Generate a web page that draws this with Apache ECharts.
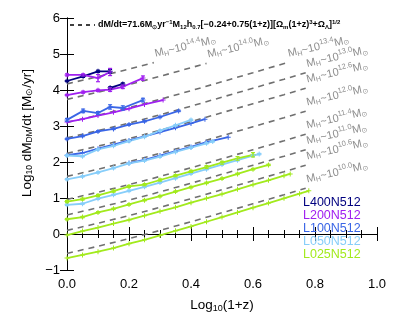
<!DOCTYPE html>
<html><head><meta charset="utf-8">
<script src="https://cdn.jsdelivr.net/npm/echarts@6/dist/echarts.min.js"></script>
<style>html,body{margin:0;padding:0;background:#fff}#c{width:399px;height:319px}</style>
</head><body><div id="c"></div>
<script>
// ---- axis ticks ----
const xTickValues = [0.0, 0.2, 0.4, 0.6, 0.8, 1.0];
const yTickValues = [-1, 0, 1, 2, 3, 4, 5, 6];

// ---- dashed model lines (x = log10(1+z), y = log10 dM/dt) ----
const massLabels = ['10.0','10.6','11.0','11.4','12.0','12.6','13.0','13.4','14.0','14.4'];
const dash_100 = [[0,-0.54],[0.1,-0.34],[0.2,-0.13],[0.3,0.10],[0.4,0.34],[0.5,0.59],[0.6,0.84],[0.7,1.09],[0.77,1.27]];
const dash_106 = [[0,0.10],[0.1,0.30],[0.2,0.51],[0.3,0.74],[0.4,0.98],[0.5,1.23],[0.6,1.48],[0.7,1.73],[0.77,1.91]];
const dash_110 = [[0,0.53],[0.1,0.73],[0.2,0.94],[0.3,1.17],[0.4,1.41],[0.5,1.66],[0.6,1.91],[0.7,2.16],[0.77,2.34]];
const dash_114 = [[0,0.96],[0.1,1.16],[0.2,1.37],[0.3,1.60],[0.4,1.84],[0.5,2.09],[0.6,2.34],[0.7,2.59],[0.77,2.77]];
const dash_120 = [[0,1.60],[0.1,1.80],[0.2,2.01],[0.3,2.24],[0.4,2.48],[0.5,2.73],[0.6,2.98],[0.7,3.23],[0.77,3.41]];
const dash_126 = [[0,2.24],[0.1,2.44],[0.2,2.65],[0.3,2.88],[0.4,3.12],[0.5,3.37],[0.6,3.62],[0.7,3.87],[0.77,4.05]];
const dash_130 = [[0,2.67],[0.1,2.87],[0.2,3.08],[0.3,3.31],[0.4,3.55],[0.5,3.80],[0.6,4.05],[0.7,4.30],[0.77,4.48]];
const dash_134 = [[0,3.10],[0.1,3.30],[0.2,3.51],[0.3,3.74],[0.4,3.98],[0.5,4.23],[0.6,4.48],[0.71,4.76]];
const dash_140 = [[0,3.74],[0.1,3.94],[0.2,4.15],[0.3,4.38],[0.45,4.74]];
const dash_144 = [[0,4.17],[0.1,4.37],[0.2,4.58],[0.28,4.76]];

// ---- simulation curves: [x, y, error] ----
const L400_144 = [[0,4.25,0.02],[0.052,4.38,0.03],[0.1,4.52,0.03],[0.139,4.52,0.05]];
const L400_140 = [[0.139,4.06,0.03],[0.18,4.17,0.03]];

const L200_144 = [[0,4.42,0.03],[0.052,4.42,0.03],[0.1,4.33,0.10],[0.139,4.50,0.10]];
const L200_140 = [[0,3.86,0.02],[0.052,3.94,0.03],[0.1,3.99,0.03],[0.139,4.01,0.05],[0.18,4.09,0.05],[0.245,4.33,0.06]];
const L200_134 = [[0,3.11,0],[0.05,3.19,0],[0.1,3.29,0],[0.15,3.38,0],[0.2,3.48,0],[0.25,3.60,0],[0.31,3.72,0]];

const L100_134 = [[0,3.17,0.04],[0.052,3.42,0.05],[0.1,3.36,0.04],[0.139,3.53,0.06],[0.18,3.50,0.06],[0.245,3.72,0.05]];
const L100_130 = [[0,2.64,0.02],[0.05,2.72,0.02],[0.1,2.85,0.02],[0.15,2.92,0.02],[0.2,3.04,0.02],[0.25,3.13,0.02],[0.3,3.25,0.02],[0.36,3.42,0.02]];
const L100_126 = [[0,2.19,0],[0.05,2.25,0],[0.1,2.37,0],[0.15,2.48,0],[0.2,2.60,0],[0.25,2.71,0],[0.3,2.83,0],[0.35,2.95,0],[0.4,3.07,0],[0.445,3.19,0]];
const L100_120 = [[0.2,1.97,0],[0.25,2.06,0],[0.3,2.18,0],[0.35,2.30,0],[0.4,2.42,0],[0.45,2.55,0],[0.52,2.69,0]];

const L050_126 = [[0,2.18,0.02],[0.05,2.16,0.02],[0.1,2.35,0.02],[0.15,2.45,0.02],[0.2,2.58,0.02],[0.25,2.70,0.02],[0.3,2.87,0.02],[0.35,3.02,0.02],[0.4,3.17,0.02]];
const L050_120 = [[0,1.52,0.02],[0.05,1.60,0.02],[0.1,1.71,0.02],[0.15,1.83,0.02],[0.2,1.96,0.02],[0.25,2.04,0.02],[0.3,2.15,0.02],[0.35,2.28,0.02],[0.4,2.40,0.02],[0.45,2.52,0.02],[0.47,2.57,0.02]];
const L050_114 = [[0,0.81,0.02],[0.05,0.84,0.02],[0.1,0.98,0.02],[0.15,1.09,0.02],[0.2,1.20,0.02],[0.25,1.31,0.02],[0.3,1.43,0.02],[0.35,1.55,0.02],[0.4,1.68,0.02],[0.45,1.80,0.02],[0.5,1.93,0.02],[0.55,2.05,0.02],[0.6,2.18,0.02],[0.62,2.22,0.02]];

const L025_114 = [[0,0.90,0.03],[0.05,0.97,0.03],[0.1,1.07,0.03],[0.15,1.19,0.03],[0.2,1.32,0.03],[0.25,1.37,0.03],[0.3,1.50,0.03],[0.35,1.62,0.03],[0.4,1.74,0.03],[0.45,1.86,0.04],[0.5,1.98,0.04],[0.55,2.10,0.05],[0.6,2.20,0.06]];
const L025_110 = [[0,0.41,0.02],[0.05,0.47,0.02],[0.1,0.60,0.02],[0.15,0.70,0.02],[0.2,0.82,0.02],[0.25,0.94,0.02],[0.3,1.05,0.02],[0.35,1.18,0.02],[0.4,1.30,0.02],[0.45,1.42,0.02],[0.5,1.54,0.02],[0.55,1.67,0.02],[0.6,1.80,0.02],[0.65,1.92,0.02]];
const L025_106 = [[0,-0.03,0],[0.05,0.08,0],[0.1,0.18,0],[0.15,0.29,0],[0.2,0.39,0],[0.25,0.51,0],[0.3,0.63,0],[0.35,0.74,0],[0.4,0.87,0],[0.45,0.99,0],[0.5,1.11,0],[0.55,1.24,0],[0.6,1.37,0],[0.65,1.49,0],[0.7,1.62,0],[0.72,1.67,0]];
const L025_100 = [[0,-0.67,0],[0.05,-0.58,0],[0.1,-0.49,0],[0.15,-0.39,0],[0.2,-0.27,0],[0.25,-0.16,0],[0.3,-0.04,0],[0.35,0.09,0],[0.4,0.21,0],[0.45,0.34,0],[0.5,0.47,0],[0.55,0.60,0],[0.6,0.73,0],[0.65,0.86,0],[0.7,0.99,0],[0.75,1.12,0],[0.78,1.20,0]];

const simNames = ['L400N512','L200N512','L100N512','L050N512','L025N512'];
const simColors = ['#00007f','#a020f0','#3a66e6','#87cefa','#a2ea1c'];
const simCurves = [
  [L400_144, L400_140],
  [L200_144, L200_140, L200_134],
  [L100_134, L100_130, L100_126, L100_120],
  [L050_126, L050_120, L050_114],
  [L025_114, L025_110, L025_106, L025_100]
];
const dashCurves = [dash_100,dash_106,dash_110,dash_114,dash_120,dash_126,dash_130,dash_134,dash_140,dash_144];

const FONT = '"Liberation Sans", Arial, Helvetica, sans-serif';
const chart = echarts.init(document.getElementById('c'), null, {renderer:'canvas'});

const series = [];
dashCurves.forEach(d => series.push({
  type:'line', data:d, symbol:'none', silent:true, z:1,
  lineStyle:{color:'#707070', width:1.6, type:[6,5]}
}));
// mass labels at the end of each dashed line
series.push({
  type:'scatter', symbolSize:0, silent:true, z:4,
  data: dashCurves.map((d,i)=>({value:d[d.length-1], label:{formatter:'M{s|H}~10{p|'+massLabels[i]+'}M{s|⊙}'}})),
  label:{show:true, position:'right', distance:3, rotate:13, offset:[0,-9],
    color:'#707070', fontSize:11, fontFamily:FONT,
    rich:{s:{fontSize:7, color:'#707070', fontFamily:FONT, padding:[5,0,0,0]},
          p:{fontSize:7.5, color:'#707070', fontFamily:FONT, padding:[0,0,8,0]}}}
});
const plusSym = 'path://M2,0h1v2h2v1h-2v2h-1v-2h-2v-1h2z';
simCurves.forEach((group,si) => {
  const col = simColors[si];
  group.forEach(curve => {
    series.push({
      type:'line', data:curve.map(p=>[p[0],p[1]]), z:2, silent:true,
      symbol:plusSym, symbolSize:5, showSymbol:true,
      itemStyle:{color:col}, lineStyle:{color:col, width:1.8}
    });
    const errs = curve.filter(p=>p[2]>0);
    if (errs.length) series.push({
      type:'custom', data:errs, z:3, silent:true, encode:{x:0,y:1},
      renderItem:(params,api)=>{
        const x=api.value(0), y=api.value(1), e=api.value(2);
        const lo=api.coord([x,y-e]), hi=api.coord([x,y+e]); const w=2;
        const st={stroke:col, lineWidth:1.2};
        return {type:'group', children:[
          {type:'line', shape:{x1:lo[0],y1:lo[1],x2:hi[0],y2:hi[1]}, style:st},
          {type:'line', shape:{x1:lo[0]-w,y1:lo[1],x2:lo[0]+w,y2:lo[1]}, style:st},
          {type:'line', shape:{x1:hi[0]-w,y1:hi[1],x2:hi[0]+w,y2:hi[1]}, style:st}
        ]};
      }
    });
  });
});

const axisLineStyle = {show:true, lineStyle:{color:'#000', width:1}};
const xCommon = {type:'value', min:xTickValues[0], max:xTickValues[xTickValues.length-1], interval:0.2,
  axisLine:axisLineStyle, splitLine:{show:false},
  axisTick:{show:true, inside:true, length:7, lineStyle:{color:'#000'}},
  minorTick:{show:true, splitNumber:4, length:4, lineStyle:{color:'#000'}}};
const yCommon = {type:'value', min:yTickValues[0], max:yTickValues[yTickValues.length-1], interval:1,
  axisLine:axisLineStyle, splitLine:{show:false},
  axisTick:{show:true, inside:true, length:7, lineStyle:{color:'#000'}}};

chart.setOption({
  animation:false,
  backgroundColor:'#fff',
  grid:{left:67, right:22, top:18, bottom:49, containLabel:false},
  xAxis:[
    Object.assign({}, xCommon, {position:'bottom',
      axisLabel:{show:true, color:'#000', fontSize:13, fontFamily:FONT, margin:8, showMinLabel:true, showMaxLabel:true,
        formatter:v=>v.toFixed(1)},
      name:'Log{s|10}(1+z)', nameLocation:'middle', nameGap:28,
      nameTextStyle:{color:'#000', fontSize:13.5, fontFamily:FONT,
        rich:{s:{fontSize:9, fontFamily:FONT, color:'#000', padding:[6,0,0,0]}}}}),
    Object.assign({}, xCommon, {position:'top', axisLabel:{show:false}})
  ],
  yAxis:[
    Object.assign({}, yCommon, {position:'left',
      axisLabel:{show:true, color:'#000', fontSize:13, fontFamily:FONT, margin:7, showMinLabel:true, showMaxLabel:true,
        formatter:v=> (v<0 ? '\u2212'+Math.abs(v) : String(v))}}),
    Object.assign({}, yCommon, {position:'right', axisLabel:{show:false}})
  ],
  series:series,
  graphic:[
    {type:'text', x:27, y:133, rotation:Math.PI/2, silent:true,
      style:{text:'Log{s|10} dM{s|DM}/dt [M{s|⊙}/yr]', fill:'#000', fontSize:13.5, fontFamily:FONT,
        align:'center', verticalAlign:'middle',
        rich:{s:{fontSize:8.5, fill:'#000', fontFamily:FONT, padding:[6,0,0,0]}}}},
    {type:'line', shape:{x1:70,y1:25,x2:95,y2:25}, silent:true,
      style:{stroke:'#000', lineWidth:1.5, lineDash:[4,4]}},
    {type:'text', x:98, y:25, silent:true,
      style:{text:'dM/dt=71.6M{s|⊙}yr{p|\u22121}M{s|12}h{s|0.7}[\u22120.24+0.75(1+z)][\u03A9{s|m}(1+z){p|3}+\u03A9{s|\u039B}]{p|1/2}',
        fill:'#000', fontSize:9, fontWeight:'bold', fontFamily:FONT, align:'left', verticalAlign:'middle',
        rich:{s:{fontSize:6, fontWeight:'bold', fill:'#000', fontFamily:FONT, padding:[4,0,0,0]},
              p:{fontSize:6, fontWeight:'bold', fill:'#000', fontFamily:FONT, padding:[0,0,6,0]}}}}
  ].concat(simNames.map((n,i)=>({type:'text', x:303, y:203+13*i, silent:true, z:100,
      style:{text:n, fill:simColors[i], fontSize:12.5, fontFamily:FONT, align:'left', verticalAlign:'middle'}})))
});
</script>
</body></html>
